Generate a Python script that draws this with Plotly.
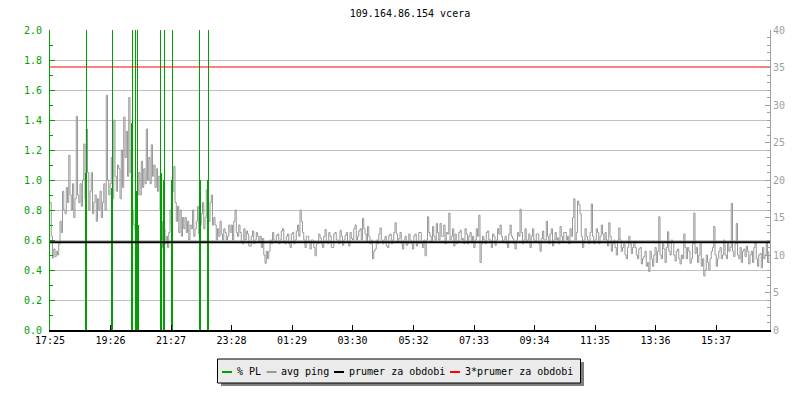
import plotly.graph_objects as go
import pandas as pd

# ---------------- data ----------------
start_time = "2013-06-10 17:25"
step_seconds = 150  # 2.5 minutes per sample

# avg ping [ms]; one row = 30 minutes (12 samples), 48 rows = 24 h
avg_ping = [
    17.0, 12.5, 9.6, 10.8, 9.8, 10.5, 10.0, 11.5, 14.5, 13.0, 18.5, 16.0,
    15.5, 19.0, 17.0, 23.3, 18.0, 16.0, 19.5, 15.0, 17.5, 28.5, 18.0, 17.0,
    19.5, 16.5, 20.0, 24.8, 17.5, 26.8, 21.0, 16.0, 18.5, 21.0, 15.5, 17.0,
    18.0, 14.5, 17.5, 16.0, 18.5, 15.0, 17.0, 19.5, 16.0, 31.3, 20.0, 18.0,
    19.5, 23.0, 17.5, 28.0, 20.5, 18.5, 22.0, 21.5, 17.5, 24.0, 19.0, 28.4,
    23.0, 26.5, 20.5, 31.0, 21.0, 24.0, 16.0, 14.0, 13.3, 16.5, 18.0, 21.0,
    18.0, 22.5, 19.0, 21.5, 19.5, 26.8, 20.0, 23.0, 19.5, 24.7, 20.5, 22.0,
    19.0, 21.5, 18.5, 20.5, 16.0, 14.5, 11.0, 13.5, 11.5, 12.5, 11.0, 13.0,
    16.0, 14.0, 18.5, 21.8, 17.0, 14.5, 16.5, 13.0, 16.0, 12.5, 15.0, 13.5,
    15.0, 13.0, 14.5, 12.0, 14.0, 13.5, 16.0, 12.5, 13.5, 14.5, 16.5, 12.8,
    14.0, 15.5, 17.0, 13.5, 15.0, 18.7, 16.0, 14.5, 17.0, 18.0, 14.0, 15.0,
    14.0, 12.0, 13.5, 12.5, 14.5, 12.8, 12.0, 13.5, 13.0, 12.0, 12.5, 14.0,
    13.0, 14.0, 12.0, 14.5, 16.0, 13.0, 12.5, 14.0, 13.0, 11.8, 11.5, 13.5,
    12.0, 13.2, 12.8, 11.2, 11.2, 12.5, 13.2, 11.5, 12.0, 13.0, 12.5, 11.8,
    12.5, 11.0, 12.2, 10.0, 8.9, 10.5, 9.5, 10.5, 12.0, 11.5, 13.0, 12.0,
    11.8, 12.6, 12.8, 11.5, 12.0, 13.2, 13.5, 11.8, 11.5, 12.5, 12.8, 11.5,
    11.0, 12.8, 13.0, 11.5, 12.0, 13.2, 14.0, 12.5, 16.0, 14.5, 13.0, 12.0,
    11.0, 12.5, 12.5, 11.8, 10.8, 12.0, 12.0, 11.0, 9.9, 11.5, 11.5, 12.8,
    12.3, 11.5, 11.0, 12.5, 13.4, 11.8, 11.5, 13.0, 12.5, 11.0, 11.0, 12.8,
    13.0, 12.0, 12.0, 11.5, 13.3, 12.5, 11.3, 12.0, 12.6, 13.0, 11.8, 11.2,
    13.0, 12.2, 12.0, 13.5, 14.0, 12.0, 12.5, 13.2, 13.5, 12.0, 14.9, 13.5,
    12.8, 11.8, 13.8, 12.5, 11.5, 12.0, 9.5, 10.5, 10.8, 12.0, 11.5, 12.8,
    13.6, 12.0, 11.5, 12.0, 12.5, 11.2, 11.0, 12.6, 12.8, 11.5, 12.0, 13.0,
    14.3, 12.8, 11.8, 12.2, 13.0, 11.5, 10.8, 12.0, 12.5, 11.3, 11.5, 12.8,
    12.0, 11.5, 10.8, 12.5, 12.8, 11.2, 11.5, 13.0, 13.0, 11.5, 11.0, 12.0,
    9.9, 12.0, 15.1, 13.0, 12.5, 11.8, 13.8, 12.5, 12.0, 14.2, 13.0, 12.0,
    14.2, 12.5, 12.5, 14.0, 11.5, 13.0, 12.8, 15.6, 12.0, 12.5, 13.5, 11.2,
    12.8, 11.5, 11.8, 13.0, 13.3, 12.0, 12.2, 11.5, 13.5, 12.8, 11.5, 12.5,
    13.0, 11.8, 12.5, 11.0, 12.0, 13.5, 12.5, 15.3, 9.0, 11.5, 12.5, 12.0,
    11.5, 13.0, 13.2, 12.0, 12.0, 11.0, 12.8, 12.5, 11.3, 12.0, 13.5, 12.8,
    14.0, 12.5, 11.8, 12.0, 12.5, 11.5, 11.0, 12.8, 14.0, 12.5, 12.2, 11.5,
    10.8, 12.0, 13.0, 12.5, 16.1, 13.0, 11.5, 12.0, 13.5, 11.8, 12.0, 12.8,
    11.0, 12.5, 13.5, 12.0, 11.8, 12.8, 12.8, 11.5, 10.5, 12.2, 13.2, 12.0,
    12.0, 14.5, 12.5, 11.5, 12.8, 13.5, 11.2, 12.0, 13.0, 12.0, 12.3, 11.5,
    13.8, 12.5, 11.8, 13.0, 13.0, 12.0, 12.5, 11.5, 13.5, 12.5, 15.0, 17.5,
    12.0, 13.0, 17.2, 16.7, 15.5, 12.5, 11.0, 12.0, 13.5, 12.5, 12.0, 11.5,
    13.0, 16.8, 12.5, 11.5, 12.0, 13.5, 13.0, 11.5, 12.5, 14.0, 12.8, 12.0,
    13.0, 12.0, 11.2, 14.3, 12.5, 10.5, 11.5, 12.0, 11.0, 10.0, 12.0, 13.6,
    12.0, 10.5, 11.0, 11.5, 10.0, 9.5, 11.0, 12.5, 11.5, 10.2, 11.0, 11.8,
    11.0, 10.0, 9.5, 10.8, 11.0, 8.8, 9.5, 9.8, 10.5, 8.5, 9.0, 7.8,
    10.5, 9.5, 8.5, 10.0, 11.0, 9.0, 10.5, 15.1, 10.0, 9.5, 11.5, 10.8,
    9.0, 11.0, 13.1, 10.5, 10.0, 12.0, 11.8, 10.0, 9.2, 10.5, 10.8, 9.5,
    8.8, 10.0, 9.5, 12.8, 11.0, 9.5, 11.0, 10.5, 8.9, 9.5, 11.5, 15.6,
    10.2, 11.0, 9.0, 10.0, 11.5, 8.5, 9.5, 7.2, 8.0, 10.0, 9.0, 8.0,
    9.5, 10.5, 11.0, 13.8, 10.0, 8.5, 9.5, 10.5, 11.0, 9.5, 10.0, 12.0,
    10.0, 9.5, 11.5, 10.5, 11.0, 16.9, 10.5, 9.8, 11.5, 14.2, 10.0, 9.5,
    11.0, 9.0, 10.5, 10.8, 9.8, 11.2, 10.5, 8.8, 10.0, 10.5, 9.0, 11.0,
    11.6, 9.5, 8.5, 10.0, 10.2, 8.3, 11.0, 9.5, 10.0, 11.6, 9.0, 10.5,
]

# packet loss [%] - only the non-zero samples
pl_times = ["18:36", "18:38", "19:28", "19:30", "20:08", "20:10", "20:16",
            "20:18", "20:20", "20:22", "21:06", "21:08", "21:12", "21:14",
            "21:28", "21:30", "22:24", "22:26", "22:40", "22:42"]
pl_values = [1.05, 3.3, 0.95, 3.3, 1.38, 3.3, 3.3, 0.93, 3.3, 0.7,
             3.3, 1.05, 1.0, 3.3, 1.0, 3.3, 3.3, 1.0, 1.0, 3.3]

avg_period = 11.69  # prumer za obdobi [ms]

tick_labels = ["17:25", "19:26", "21:27", "23:28", "01:29", "03:30",
               "05:32", "07:33", "09:34", "11:35", "13:36", "15:37"]

title_text = "109.164.86.154 vcera"
legend_labels = ["% PL", "avg ping", "prumer za obdobi", "3*prumer za obdobi"]

# ---------------- helpers ----------------
start = pd.Timestamp(start_time)
end = start + pd.Timedelta(hours=24)
times = pd.date_range(start, periods=len(avg_ping), freq=f"{step_seconds}s")


def to_ts(hhmm):
    t = pd.Timestamp(f"{start.date()} {hhmm}")
    if t < start:
        t += pd.Timedelta(days=1)
    return t


pl_x = [to_ts(t) for t in pl_times]
tick_vals = [to_ts(t) for t in tick_labels]

GREEN = "#00a000"
GRAY = "#999999"
AXGRAY = "#a0a0a0"
FONT = "DejaVu Sans Mono"

# page body has an 8px margin -> shift the figure by it
OFF = 8
W, H = 800, 400
PL_L, PL_R, PL_T, PL_B = 50, 770, 30, 330          # plot area on screen
L, T = PL_L - OFF, PL_T - OFF
R, B = W - (PL_R - OFF), H - (PL_B - OFF)


def px(x):
    return (x - PL_L) / (PL_R - PL_L)


def py(y):
    return (PL_B - y) / (PL_B - PL_T)


fig = go.Figure()

fig.add_trace(go.Scatter(
    x=times, y=avg_ping, mode="lines", line=dict(color=GRAY, width=1, shape="hv"),
    yaxis="y", showlegend=False, name=legend_labels[1]))

fig.add_trace(go.Bar(
    x=pl_x, y=pl_values, width=[120000] * len(pl_x), marker=dict(color=GREEN, line=dict(width=0)),
    yaxis="y2", showlegend=False, name=legend_labels[0]))

fig.add_trace(go.Scatter(
    x=[start, end], y=[avg_period, avg_period], mode="lines",
    line=dict(color="black", width=2), yaxis="y3", showlegend=False, name=legend_labels[2]))

fig.add_trace(go.Scatter(
    x=[start, end], y=[3 * avg_period, 3 * avg_period], mode="lines",
    line=dict(color="#ff0000", width=1.2), yaxis="y3", showlegend=False, name=legend_labels[3]))

fig.update_layout(
    width=W, height=H,
    margin=dict(l=L, r=R, t=T, b=B, pad=0, autoexpand=False),
    paper_bgcolor="white", plot_bgcolor="white",
    font=dict(family=FONT, size=10, color="black"),
    bargap=0,
    title=dict(text=title_text, x=px(410), xref="paper", xanchor="center",
               y=1 - (13 - OFF) / H, yref="container", yanchor="middle",
               font=dict(family=FONT, size=10, color="black")),
    xaxis=dict(
        type="date", range=[start, end], showgrid=False, zeroline=False,
        tickmode="array", tickvals=tick_vals, ticktext=tick_labels,
        ticks="inside", ticklen=5, tickcolor="black", tickwidth=1,
        showline=True, linecolor="black", linewidth=2,
        tickfont=dict(family=FONT, size=10, color="black"),
    ),
    yaxis=dict(
        side="right", range=[0, 40], dtick=5, showgrid=False, zeroline=False,
        ticks="inside", ticklen=5, tickcolor=AXGRAY,
        showline=True, linecolor=AXGRAY, linewidth=1,
        tickfont=dict(family=FONT, size=10, color=AXGRAY),
        minor=dict(dtick=1, ticks="inside", ticklen=3, tickcolor=AXGRAY, showgrid=False),
    ),
    yaxis2=dict(
        side="left", overlaying="y", range=[0, 2], dtick=0.2, tickformat=".1f",
        showgrid=True, gridcolor="#c0c0c0", gridwidth=1, zeroline=False,
        ticks="inside", ticklen=5, tickcolor=GREEN,
        showline=True, linecolor=GREEN, linewidth=1,
        tickfont=dict(family=FONT, size=10, color=GREEN),
        ticklabelstandoff=5,
        minor=dict(dtick=0.1, ticks="inside", ticklen=3, tickcolor=GREEN, showgrid=False),
    ),
    yaxis3=dict(overlaying="y", matches="y", visible=False),
)

# ---------- custom legend ----------
shapes = [
    dict(type="rect", xref="paper", yref="paper", x0=px(221), x1=px(584), y0=py(362), y1=py(386),
         fillcolor="#7f7f7f", line=dict(width=0), layer="above"),
    dict(type="rect", xref="paper", yref="paper", x0=px(217.5), x1=px(580.5), y0=py(359), y1=py(383),
         fillcolor="#ebebeb", line=dict(color="black", width=1), layer="above"),
]
legend_colors = [GREEN, GRAY, "black", "#ff0000"]
sample_x = [222, 266.5, 334, 450]
text_x = [236, 280, 348, 464]
for c, sx in zip(legend_colors, sample_x):
    shapes.append(dict(type="line", xref="paper", yref="paper", x0=px(sx), x1=px(sx + 10),
                       y0=py(372), y1=py(372), line=dict(color=c, width=2), layer="above"))
fig.update_layout(shapes=shapes)

for lab, tx in zip(legend_labels, text_x):
    fig.add_annotation(text=lab, xref="paper", yref="paper", x=px(tx), y=py(371),
                       xanchor="left", yanchor="middle", showarrow=False,
                       font=dict(family=FONT, size=10, color="black"), borderpad=0)

fig.write_html("out.html")
